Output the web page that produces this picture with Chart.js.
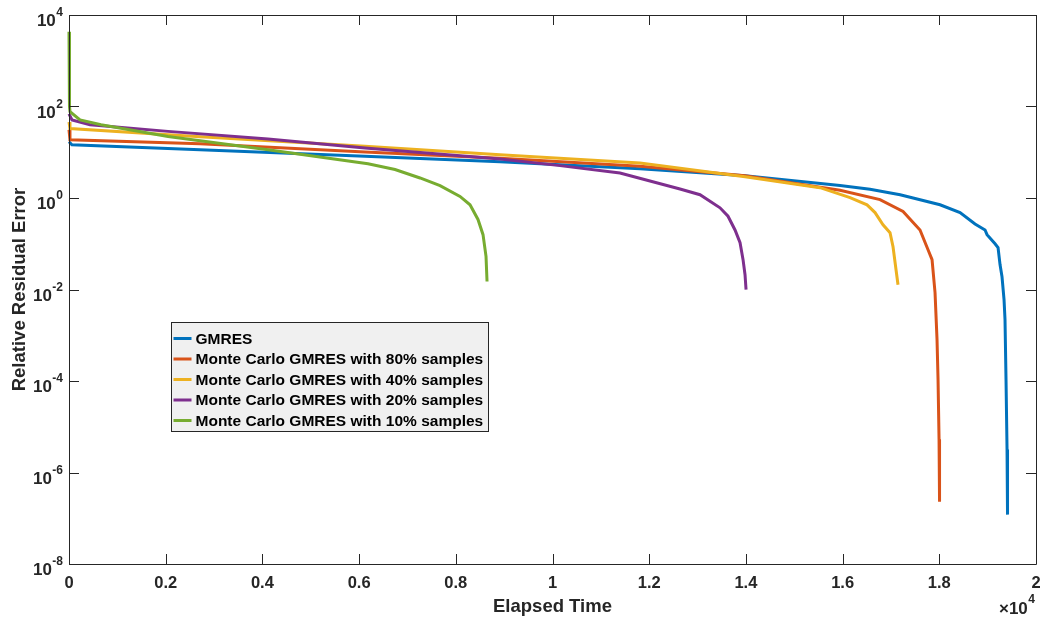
<!DOCTYPE html>
<html>
<head>
<meta charset="utf-8">
<script src="https://cdn.jsdelivr.net/npm/chart.js@4.4.1/dist/chart.umd.min.js"></script>
<style>
  html, body { margin: 0; padding: 0; background: #ffffff; }
  #wrap { width: 1040px; height: 618px; position: relative; }
  canvas { display: block; }
</style>
</head>
<body>
<div id="wrap"><canvas id="c" width="1040" height="618"></canvas></div>
<script>
// ---------- data ----------
const seriesLabels = [
  'GMRES',
  'Monte Carlo GMRES with 80% samples',
  'Monte Carlo GMRES with 40% samples',
  'Monte Carlo GMRES with 20% samples',
  'Monte Carlo GMRES with 10% samples'
];
const seriesColors = ['#0072BD', '#D95319', '#EDB120', '#7E2F8E', '#77AC30'];

const gmresTime  = [0, 60, 2710, 6122, 8914, 11810, 13982, 15947, 16567, 17190, 18015, 18429, 18739, 18946, 18987, 19153, 19215, 19256, 19297, 19339, 19359, 19380, 19401, 19411];
const gmresErr   = [17, 14.6, 11.3, 8.2, 6.2, 4.36, 3.07, 1.88, 1.56, 1.18, 0.71, 0.48, 0.27, 0.20, 0.158, 0.10, 0.082, 0.035, 0.019, 0.006, 0.0022, 1.07e-4, 3.2e-6, 1.2e-7];

const mc80Time   = [0, 20, 2710, 6122, 8914, 11810, 13982, 15947, 16774, 17250, 17601, 17767, 17850, 17912, 17953, 17974, 17995, 18005];
const mc80Err    = [31, 18.8, 15.4, 10.1, 7.4, 4.95, 3.07, 1.47, 0.92, 0.51, 0.20, 0.074, 0.045, 0.0085, 8e-4, 1.07e-4, 5.3e-6, 2.3e-7];

const mc40Time   = [0, 20, 2710, 6122, 8914, 11810, 13982, 15533, 16154, 16505, 16671, 16836, 16981, 17043, 17105, 17146];
const mc40Err    = [46, 33, 21.9, 13.6, 8.8, 5.8, 2.93, 1.68, 1.02, 0.71, 0.48, 0.26, 0.174, 0.086, 0.027, 0.0127];

const mc20Time   = [0, 62, 434, 2048, 4116, 6122, 8914, 10155, 11396, 12637, 13051, 13465, 13630, 13775, 13879, 13941, 13982, 14003];
const mc20Err    = [69, 51, 40, 28.6, 19.5, 12.4, 7.1, 5.1, 3.52, 1.57, 1.18, 0.61, 0.40, 0.20, 0.105, 0.045, 0.021, 0.0099];

const mc10Time   = [0, 10, 21, 228, 662, 2048, 4116, 6184, 6743, 7260, 7674, 8087, 8294, 8459, 8563, 8625, 8646];
const mc10Err    = [4300, 100, 77, 51, 40, 22.2, 11.4, 5.6, 4.2, 2.74, 1.86, 1.08, 0.71, 0.34, 0.158, 0.053, 0.015];

const xTickValues = [0, 2000, 4000, 6000, 8000, 10000, 12000, 14000, 16000, 18000, 20000];
const xTickLabels = ['0', '0.2', '0.4', '0.6', '0.8', '1', '1.2', '1.4', '1.6', '1.8', '2'];
const yTickExponents = [-8, -6, -4, -2, 0, 2, 4];

const xTitle = 'Elapsed Time';
const yTitle = 'Relative Residual Error';

// ---------- build datasets ----------
const times = [gmresTime, mc80Time, mc40Time, mc20Time, mc10Time];
const errs  = [gmresErr, mc80Err, mc40Err, mc20Err, mc10Err];
const datasets = seriesLabels.map((lab, i) => ({
  label: lab,
  data: times[i].map((t, k) => ({ x: t, y: errs[i][k] })),
  borderColor: seriesColors[i],
  backgroundColor: seriesColors[i],
  borderWidth: 3,
  pointRadius: 0,
  tension: 0,
  fill: false,
  clip: false,
  order: seriesLabels.length - i
}));

const FONT = '"Liberation Sans", Arial, Helvetica, sans-serif';
const AX = '#262626';

const matlabAxes = {
  id: 'matlabAxes',
  afterDraw(chart) {
    const ctx = chart.ctx;
    const a = chart.chartArea;
    const xs = chart.scales.x, ys = chart.scales.y;
    ctx.save();
    // box
    ctx.strokeStyle = AX;
    ctx.lineWidth = 1;
    ctx.beginPath();
    ctx.rect(Math.round(a.left) + 0.5, Math.round(a.top) + 0.5,
             Math.round(a.right - a.left), Math.round(a.bottom - a.top));
    ctx.stroke();
    // ticks
    const TL = 10;
    ctx.beginPath();
    xTickValues.forEach(v => {
      const px = Math.round(xs.getPixelForValue(v)) + 0.5;
      ctx.moveTo(px, a.bottom); ctx.lineTo(px, a.bottom - TL);
      ctx.moveTo(px, a.top); ctx.lineTo(px, a.top + TL);
    });
    yTickExponents.forEach(e => {
      const py = Math.round(ys.getPixelForValue(Math.pow(10, e))) + 0.5;
      ctx.moveTo(a.left, py); ctx.lineTo(a.left + TL, py);
      ctx.moveTo(a.right, py); ctx.lineTo(a.right - TL, py);
    });
    ctx.stroke();
    // x tick labels
    ctx.fillStyle = AX;
    ctx.font = 'bold 16.5px ' + FONT;
    ctx.textAlign = 'center';
    ctx.textBaseline = 'alphabetic';
    xTickValues.forEach((v, i) => {
      ctx.fillText(xTickLabels[i], xs.getPixelForValue(v), a.bottom + 24);
    });
    // y tick labels 10^e
    yTickExponents.forEach(e => {
      const py = ys.getPixelForValue(Math.pow(10, e));
      const sup = String(e);
      ctx.font = 'bold 12px ' + FONT;
      const wSup = ctx.measureText(sup).width;
      const right = a.left - 6;
      ctx.textAlign = 'right';
      ctx.fillText(sup, right, py + 1);
      ctx.font = 'bold 17px ' + FONT;
      ctx.fillText('10', right - wSup - 0.5, py + 11);
    });
    // x exponent x10^4
    ctx.textAlign = 'right';
    ctx.font = 'bold 12px ' + FONT;
    const w4 = ctx.measureText('4').width;
    ctx.fillText('4', a.right - 1, 603);
    ctx.font = 'bold 17px ' + FONT;
    ctx.fillText('\u00D710', a.right - 1 - w4 - 0.5, 614);
    // axis titles
    ctx.font = 'bold 18.5px ' + FONT;
    ctx.textAlign = 'center';
    ctx.fillText(xTitle, (a.left + a.right) / 2, a.bottom + 48);
    ctx.save();
    ctx.translate(25, (a.top + a.bottom) / 2);
    ctx.rotate(-Math.PI / 2);
    ctx.fillText(yTitle, 0, 0);
    ctx.restore();
    // legend
    const lx = 171.5, ly = 322.5, lw = 317, lh = 109;
    ctx.fillStyle = '#F0F0F0';
    ctx.fillRect(lx, ly, lw, lh);
    ctx.strokeStyle = AX;
    ctx.lineWidth = 1;
    ctx.strokeRect(lx, ly, lw, lh);
    ctx.font = 'bold 15.5px ' + FONT;
    ctx.textAlign = 'left';
    ctx.textBaseline = 'middle';
    chart.data.datasets.forEach((ds, i) => {
      const cy = 338.5 + i * 20.5;
      ctx.strokeStyle = ds.borderColor;
      ctx.lineWidth = 3;
      ctx.beginPath();
      ctx.moveTo(lx + 2, cy); ctx.lineTo(lx + 20, cy);
      ctx.stroke();
      ctx.fillStyle = '#000000';
      ctx.fillText(ds.label, lx + 24, cy + 1);
    });
    ctx.restore();
  }
};

new Chart(document.getElementById('c'), {
  type: 'line',
  data: { datasets },
  options: {
    responsive: false,
    animation: false,
    layout: { padding: { left: 69, right: 4, top: 15, bottom: 54 } },
    plugins: { legend: { display: false }, tooltip: { enabled: false } },
    scales: {
      x: { type: 'linear', min: 0, max: 20000, display: false },
      y: { type: 'logarithmic', min: 1e-8, max: 1e4, display: false }
    }
  },
  plugins: [matlabAxes]
});
</script>
</body>
</html>
